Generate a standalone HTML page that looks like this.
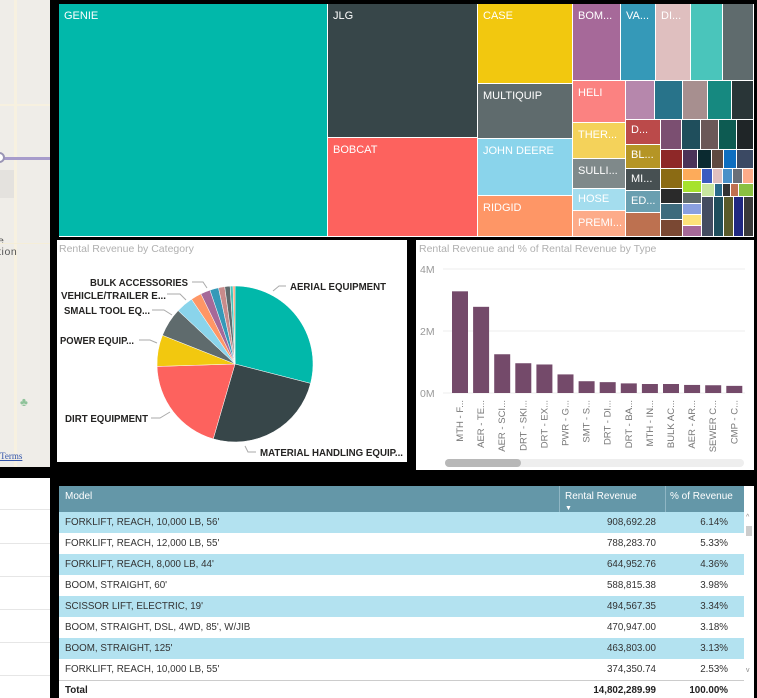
<!DOCTYPE html>
<html><head><meta charset="utf-8">
<style>
*{margin:0;padding:0;box-sizing:border-box}
body{width:757px;height:698px;background:#000;position:relative;overflow:hidden;font-family:"Liberation Sans",sans-serif}
.a{position:absolute}
.tm{position:absolute;color:#fff;font-size:11px;padding:6px 0 0 5px;overflow:hidden;white-space:nowrap;border-right:1px solid #fff;border-bottom:1px solid #fff}
.row{position:absolute;left:0;width:685px;height:21px;font-size:9.8px;color:#333;line-height:21px}
.row span{position:absolute}
.c1{left:6px}.c2{right:88px}.c3{right:16px}
.lab{font-weight:bold;font-size:10.5px;fill:#252423}
</style></head><body>
<!-- map -->
<div class="a" style="left:0;top:0;width:50px;height:467px;background:#efede8;overflow:hidden">
 <div class="a" style="left:14px;top:0;width:3px;height:467px;background:#f7f1e0"></div>
 <div class="a" style="left:0;top:104px;width:50px;height:2px;background:#f7f1e0"></div>
 <div class="a" style="left:0;top:157px;width:50px;height:3px;background:#a79ccb"></div>
 <div class="a" style="left:-6px;top:152px;width:11px;height:11px;border:2px solid #9a95b5;border-radius:50%;background:#fff"></div>
 <div class="a" style="left:0;top:170px;width:14px;height:28px;background:#e4e2de"></div>
 <div class="a" style="left:-2px;top:236px;font-size:10.5px;color:#555;line-height:11px;letter-spacing:0.6px">e<br>tion</div>
 <div class="a" style="left:0;top:243px;width:50px;height:1px;background:#f5eed8"></div>
 <div class="a" style="left:20px;top:395px;color:#8fc39a;font-size:12px">♣</div>
 <div class="a" style="left:0;top:451px;font-size:9px;color:#3355aa;text-decoration:underline;font-family:'Liberation Serif',serif">Terms</div>
</div>
<!-- left lower list -->
<div class="a" style="left:0;top:478px;width:50px;height:220px;background:#fff">
 <div class="a" style="left:0;top:31px;width:50px;height:1px;background:#e6e6e6"></div>
 <div class="a" style="left:0;top:65px;width:50px;height:1px;background:#e6e6e6"></div>
 <div class="a" style="left:0;top:98px;width:50px;height:1px;background:#e6e6e6"></div>
 <div class="a" style="left:0;top:131px;width:50px;height:1px;background:#e6e6e6"></div>
 <div class="a" style="left:0;top:164px;width:50px;height:1px;background:#e6e6e6"></div>
 <div class="a" style="left:0;top:197px;width:50px;height:1px;background:#e6e6e6"></div>
</div>
<!-- treemap -->
<div class="a" style="left:59px;top:4px;width:695px;height:233px;background:#fff">
 <div class="tm" style="left:0;top:0;width:269px;height:233px;background:#01b8aa">GENIE</div>
 <div class="tm" style="left:269px;top:0;width:150px;height:134px;background:#374649">JLG</div>
 <div class="tm" style="left:269px;top:134px;width:150px;height:99px;background:#fd625e">BOBCAT</div>
 <div class="tm" style="left:419px;top:0;width:95px;height:80px;background:#f2c80f">CASE</div>
 <div class="tm" style="left:419px;top:80px;width:95px;height:55px;background:#5f6b6d">MULTIQUIP</div>
 <div class="tm" style="left:419px;top:135px;width:95px;height:57px;background:#8ad4eb">JOHN DEERE</div>
 <div class="tm" style="left:419px;top:192px;width:95px;height:41px;background:#fe9666">RIDGID</div>
 <div class="tm" style="left:514px;top:0;width:48px;height:77px;background:#a66999">BOM...</div>
 <div class="tm" style="left:562px;top:0;width:35px;height:77px;background:#3599b8">VA...</div>
 <div class="tm" style="left:597px;top:0;width:35px;height:77px;background:#dfbfbf">DI...</div>
 <div class="tm" style="left:632px;top:0;width:32px;height:77px;background:#4ac5bb"></div>
 <div class="tm" style="left:664px;top:0;width:31px;height:77px;background:#5f6b6d"></div>
 <div class="tm" style="left:514px;top:77px;width:53px;height:42px;background:#fb8281">HELI</div>
 <div class="tm" style="left:514px;top:119px;width:53px;height:36px;background:#f4d25a">THER...</div>
 <div class="tm" style="left:514px;top:155px;width:53px;height:30px;background:#7f898a">SULLI...</div>
 <div class="tm" style="left:514px;top:185px;width:53px;height:22px;background:#a4ddee;padding-top:4px">HOSE</div>
 <div class="tm" style="left:514px;top:207px;width:53px;height:26px;background:#fdab89">PREMI...</div>
 <div class="tm" style="left:567px;top:77px;width:29px;height:39px;background:#b687ac"></div>
 <div class="tm" style="left:596px;top:77px;width:28px;height:39px;background:#28738a"></div>
 <div class="tm" style="left:624px;top:77px;width:25px;height:39px;background:#a78f8f"></div>
 <div class="tm" style="left:649px;top:77px;width:24px;height:39px;background:#168980"></div>
 <div class="tm" style="left:673px;top:77px;width:22px;height:39px;background:#293537"></div>
 <div class="tm" style="left:567px;top:116px;width:35px;height:25px;background:#bb4a4a;padding-top:4px">D...</div>
 <div class="tm" style="left:567px;top:141px;width:35px;height:24px;background:#b59525;padding-top:4px">BL...</div>
 <div class="tm" style="left:567px;top:165px;width:35px;height:22px;background:#475052;padding-top:4px">MI...</div>
 <div class="tm" style="left:567px;top:187px;width:35px;height:22px;background:#6a9fb0;padding-top:4px">ED...</div>
 <div class="tm" style="left:567px;top:209px;width:35px;height:24px;background:#bd7150"></div>
 <div class="tm" style="left:602px;top:116px;width:21px;height:30px;background:#7b4f71"></div>
 <div class="tm" style="left:623px;top:116px;width:19px;height:30px;background:#1f4e5c"></div>
 <div class="tm" style="left:642px;top:116px;width:18px;height:30px;background:#6b5858"></div>
 <div class="tm" style="left:660px;top:116px;width:18px;height:30px;background:#0d5b52"></div>
 <div class="tm" style="left:678px;top:116px;width:17px;height:30px;background:#1f2527"></div>
 <div class="tm" style="left:602px;top:146px;width:22px;height:19px;background:#8e2828"></div>
 <div class="tm" style="left:624px;top:146px;width:15px;height:19px;background:#4b3358"></div>
 <div class="tm" style="left:639px;top:146px;width:14px;height:19px;background:#0b2a30"></div>
 <div class="tm" style="left:653px;top:146px;width:12px;height:19px;background:#5f4a40"></div>
 <div class="tm" style="left:665px;top:146px;width:13px;height:19px;background:#0e6ec0"></div>
 <div class="tm" style="left:678px;top:146px;width:17px;height:19px;background:#3b4963"></div>
 <div class="tm" style="left:602px;top:165px;width:22px;height:20px;background:#8b6b14"></div>
 <div class="tm" style="left:602px;top:185px;width:22px;height:15px;background:#2a2a2a"></div>
 <div class="tm" style="left:602px;top:200px;width:22px;height:16px;background:#3e6b7d"></div>
 <div class="tm" style="left:602px;top:216px;width:22px;height:17px;background:#7a4833"></div>
 <div class="tm" style="left:624px;top:165px;width:19px;height:12px;background:#fdab5a"></div>
 <div class="tm" style="left:624px;top:177px;width:19px;height:12px;background:#a6e22e"></div>
 <div class="tm" style="left:624px;top:189px;width:19px;height:11px;background:#5f6b6d"></div>
 <div class="tm" style="left:624px;top:200px;width:19px;height:11px;background:#8aa0e0"></div>
 <div class="tm" style="left:624px;top:211px;width:19px;height:11px;background:#fde27a"></div>
 <div class="tm" style="left:624px;top:222px;width:19px;height:11px;background:#a66999"></div>
 <div class="tm" style="left:643px;top:165px;width:11px;height:15px;background:#3b5bc0"></div>
 <div class="tm" style="left:654px;top:165px;width:10px;height:15px;background:#dfbfbf"></div>
 <div class="tm" style="left:664px;top:165px;width:10px;height:15px;background:#4a90c8"></div>
 <div class="tm" style="left:674px;top:165px;width:10px;height:15px;background:#6a6f78"></div>
 <div class="tm" style="left:684px;top:165px;width:11px;height:15px;background:#fdab89"></div>
 <div class="tm" style="left:643px;top:180px;width:13px;height:13px;background:#c8e6a0"></div>
 <div class="tm" style="left:656px;top:180px;width:8px;height:13px;background:#2a6b8a"></div>
 <div class="tm" style="left:664px;top:180px;width:8px;height:13px;background:#333"></div>
 <div class="tm" style="left:672px;top:180px;width:8px;height:13px;background:#c07050"></div>
 <div class="tm" style="left:680px;top:180px;width:15px;height:13px;background:#8ac040"></div>
 <div class="tm" style="left:643px;top:193px;width:12px;height:40px;background:#444c60"></div>
 <div class="tm" style="left:655px;top:193px;width:10px;height:40px;background:#1f4e5c"></div>
 <div class="tm" style="left:665px;top:193px;width:10px;height:40px;background:#5a5a2a"></div>
 <div class="tm" style="left:675px;top:193px;width:10px;height:40px;background:#202880"></div>
 <div class="tm" style="left:685px;top:193px;width:10px;height:40px;background:#3a3a3a"></div>
</div>
<!-- pie panel -->
<div class="a" style="left:57px;top:240px;width:350px;height:222px;background:#fff"></div>
<div class="a" style="left:59px;top:243px;font-size:10.5px;color:#b0b0b0">Rental Revenue by Category</div>
<!-- bar panel -->
<div class="a" style="left:416px;top:240px;width:338px;height:230px;background:#fff"></div>
<div class="a" style="left:419px;top:243px;font-size:10.5px;color:#b0b0b0">Rental Revenue and % of Rental Revenue by Type</div>
<div class="a" style="left:445px;top:459px;width:299px;height:8px;background:#eee;border-radius:4px"></div>
<div class="a" style="left:445px;top:459px;width:76px;height:8px;background:#b8b8b8;border-radius:4px"></div>
<svg class="a" id="chart" style="left:0;top:0" width="757" height="698"></svg>
<!-- table -->
<div class="a" style="left:59px;top:486px;width:695px;height:212px;background:#fff;overflow:hidden">
 <div class="a" style="left:0;top:0;width:685px;height:26px;background:#6497a8;color:#fff;font-size:10px">
  <span class="a" style="left:6px;top:5px">Model</span>
  <span class="a" style="left:500px;top:0;padding:5px 0 0 5px;border-left:1px solid #8fb6c4;height:26px;line-height:11px">Rental Revenue<br><span style="font-size:7px">▼</span></span>
  <span class="a" style="left:606px;top:0;padding:5px 0 0 4px;border-left:1px solid #8fb6c4;height:26px">% of Revenue</span>
 </div>
 <div class="row" style="top:26px;background:#b3e2f0"><span class="c1">FORKLIFT, REACH, 10,000 LB, 56'</span><span class="c2">908,692.28</span><span class="c3">6.14%</span></div>
 <div class="row" style="top:47px;background:#fff"><span class="c1">FORKLIFT, REACH, 12,000 LB, 55'</span><span class="c2">788,283.70</span><span class="c3">5.33%</span></div>
 <div class="row" style="top:68px;background:#b3e2f0"><span class="c1">FORKLIFT, REACH, 8,000 LB, 44'</span><span class="c2">644,952.76</span><span class="c3">4.36%</span></div>
 <div class="row" style="top:89px;background:#fff"><span class="c1">BOOM, STRAIGHT, 60'</span><span class="c2">588,815.38</span><span class="c3">3.98%</span></div>
 <div class="row" style="top:110px;background:#b3e2f0"><span class="c1">SCISSOR LIFT, ELECTRIC, 19'</span><span class="c2">494,567.35</span><span class="c3">3.34%</span></div>
 <div class="row" style="top:131px;background:#fff"><span class="c1">BOOM, STRAIGHT, DSL, 4WD, 85', W/JIB</span><span class="c2">470,947.00</span><span class="c3">3.18%</span></div>
 <div class="row" style="top:152px;background:#b3e2f0"><span class="c1">BOOM, STRAIGHT, 125'</span><span class="c2">463,803.00</span><span class="c3">3.13%</span></div>
 <div class="row" style="top:173px;background:#fff"><span class="c1">FORKLIFT, REACH, 10,000 LB, 55'</span><span class="c2">374,350.74</span><span class="c3">2.53%</span></div>
 <div class="row" style="top:194px;font-weight:bold;color:#222;border-top:1px solid #ccc;line-height:20px"><span class="c1">Total</span><span class="c2">14,802,289.99</span><span class="c3">100.00%</span></div>
 <div class="a" style="left:686px;top:26px;width:9px;height:186px;background:#fff">
  <div class="a" style="left:1px;top:2px;font-size:7px;color:#888">^</div>
  <div class="a" style="left:1px;top:14px;width:6px;height:10px;background:#ccc"></div>
  <div class="a" style="left:1px;top:155px;font-size:7px;color:#888">v</div>
 </div>
</div>
<script>
const NS='http://www.w3.org/2000/svg';
const svg=document.getElementById('chart');
function mk(t,a){const e=document.createElementNS(NS,t);for(const k in a)e.setAttribute(k,a[k]);svg.appendChild(e);return e;}
// pie data
const pieCategories=['AERIAL EQUIPMENT','MATERIAL HANDLING EQUIPMENT','DIRT EQUIPMENT','POWER EQUIPMENT','SMALL TOOL EQUIPMENT','VEHICLE/TRAILER EQUIPMENT','OTHER A','BULK ACCESSORIES','OTHER B','OTHER C','OTHER D','OTHER E','OTHER F'];
const pieValues=[29,25.5,20,6.5,6,3.6,2.2,2,1.8,1.3,1.1,0.6,0.4];
const pieColors=['#01b8aa','#374649','#fd625e','#f2c80f','#5f6b6d','#8ad4eb','#fe9666','#a66999','#3599b8','#c98b8b','#5f6b6d','#4ac5bb','#fe9666'];
const cx=235,cy=364,R=78;
const tot=pieValues.reduce((a,b)=>a+b,0);
let acc=0;
pieValues.forEach((v,i)=>{
 const a0=acc/tot*2*Math.PI-Math.PI/2;acc+=v;const a1=acc/tot*2*Math.PI-Math.PI/2;
 const x0=cx+R*Math.cos(a0),y0=cy+R*Math.sin(a0),x1=cx+R*Math.cos(a1),y1=cy+R*Math.sin(a1);
 const p=mk('path',{d:`M${cx},${cy}L${x0},${y0}A${R},${R} 0 ${(a1-a0)>Math.PI?1:0} 1 ${x1},${y1}Z`,fill:pieColors[i],stroke:'#fff','stroke-width':0.5});
 
 
});
const pieLabels=[['AERIAL EQUIPMENT',290,290,'M286,286 L279,286 L273,291',96],['MATERIAL HANDLING EQUIP...',260,456,'M256,452 L248,452 L245,446',143],['DIRT EQUIPMENT',65,422,'M151,418 L160,418 L170,412',83],['POWER EQUIP...',60,344,'M139,340 L150,340 L157,343',74],['SMALL TOOL EQ...',64,314,'M152,310 L164,310 L172,315',86],['VEHICLE/TRAILER E...',61,299,'M167,294 L180,294 L186,300',105],['BULK ACCESSORIES',90,286,'M192,282 L203,282 L207,288',98]];
pieLabels.forEach(l=>{
 const ln=mk('path',{d:l[3],fill:'none',stroke:'#aaa','stroke-width':1});
 
 
 const t=mk('text',{x:l[1],y:l[2],class:'lab',textLength:l[4],lengthAdjust:'spacingAndGlyphs'});t.textContent=l[0];
 
 
});
// bar data
const barCategories=['MTH - F...','AER - TE...','AER - SCI...','DRT - SKI...','DRT - EX...','PWR - G...','SMT - S...','DRT - DI...','DRT - BA...','MTH - IN...','BULK AC...','AER - AR...','SEWER C...','CMP - C...'];
const barValues=[3.28,2.78,1.25,0.96,0.92,0.6,0.38,0.35,0.31,0.29,0.29,0.26,0.25,0.23];
const yTicks=[0,2,4];
const yTickLabels=['0M','2M','4M'];
const yS=v=>393-v*31;
const xS=i=>452+i*21.1;
yTicks.forEach((t,i)=>{
 const g=mk('line',{x1:443,x2:745,y1:yS(t),y2:yS(t),stroke:'#eee','stroke-width':1});
 
 
 const tx=mk('text',{x:420,y:yS(t)+4,'font-size':10.5,fill:'#999'});tx.textContent=yTickLabels[i];
 
 
});
barValues.forEach((v,i)=>{
 const b=mk('rect',{x:xS(i),y:yS(v),width:16,height:v*31,fill:'#744a6a'});
 
 
 const x=xS(i)+11,y=400;
 const t=mk('text',{x:x,y:y,'font-size':9.5,fill:'#777','text-anchor':'end',transform:`rotate(-90 ${x} ${y})`});
 t.textContent=barCategories[i];
 
 
});
</script>
</body></html>
